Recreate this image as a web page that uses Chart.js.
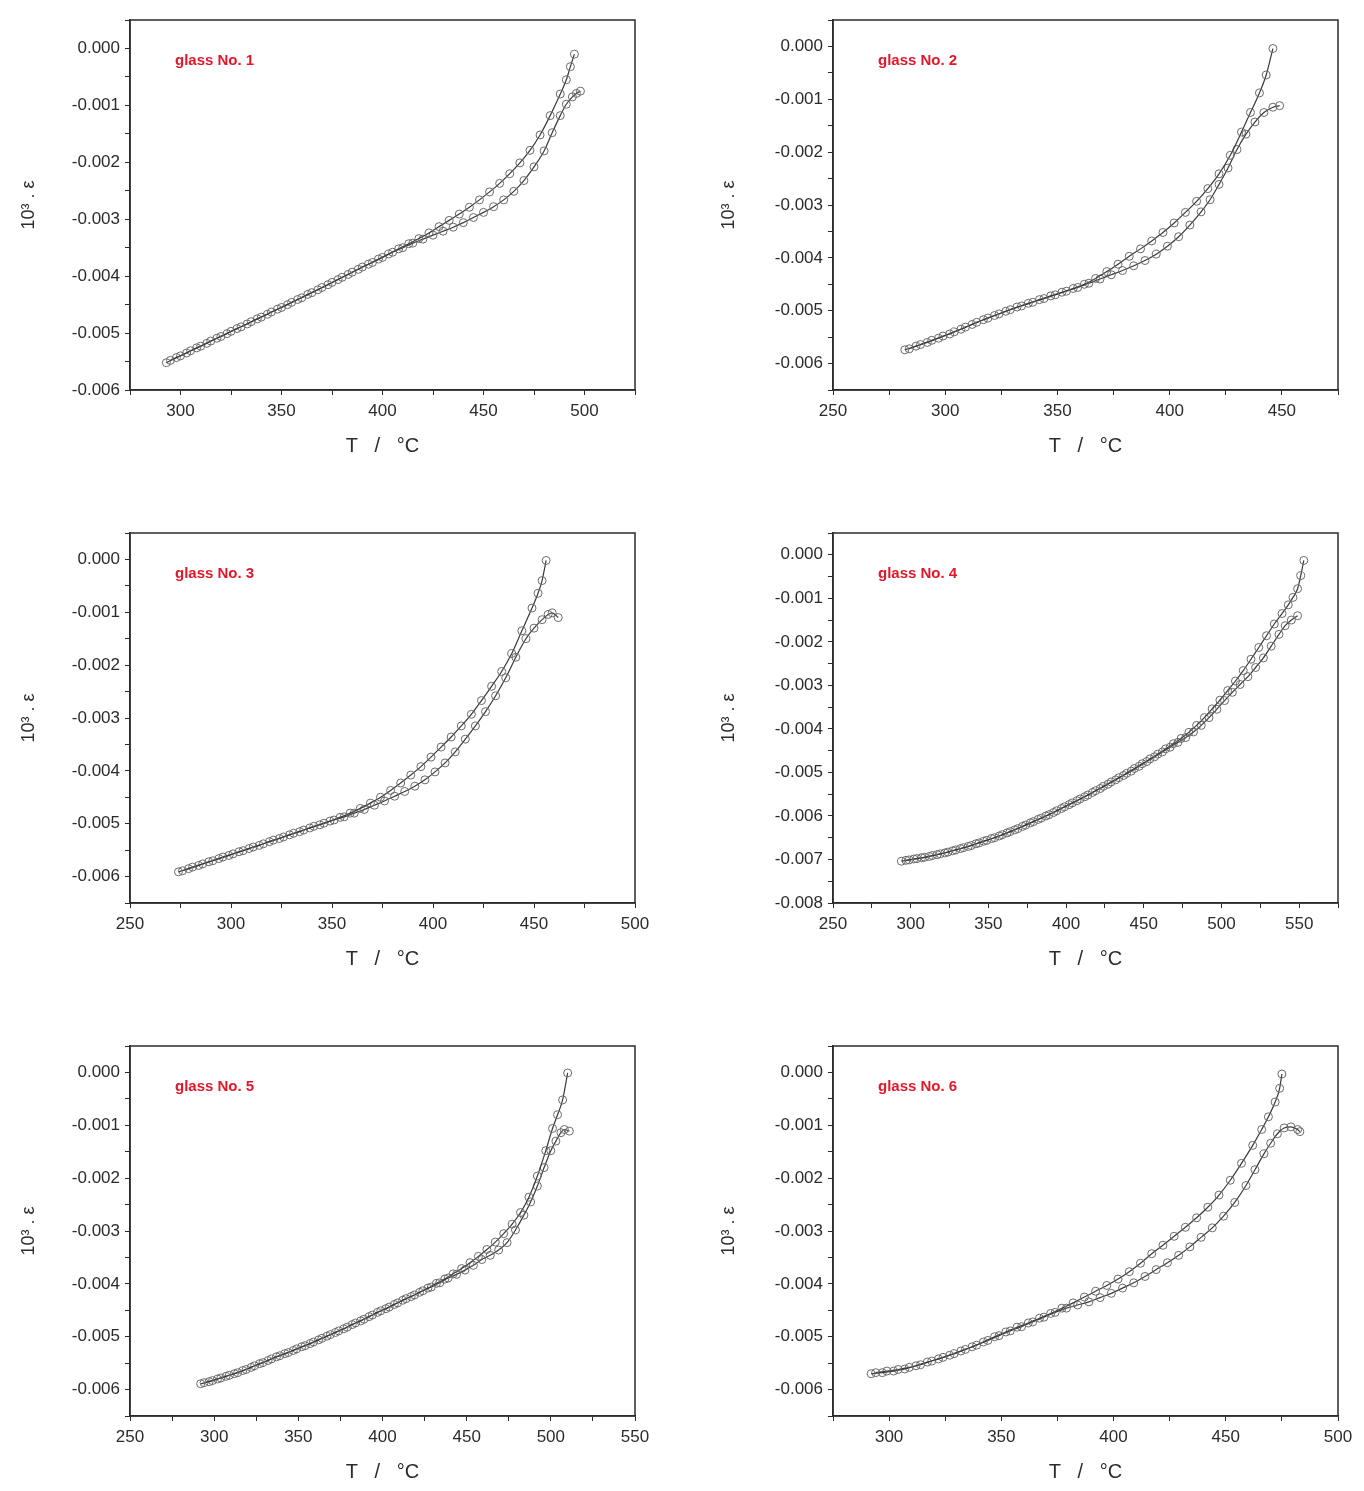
<!DOCTYPE html>
<html>
<head>
<meta charset="utf-8">
<script src="https://cdn.jsdelivr.net/npm/chart.js@4.4.0/dist/chart.umd.min.js"></script>
<style>
  body { margin: 0; background: #fff; }
  .panel { position: absolute; }
</style>
</head>
<body>
<canvas id="g1" class="panel" width="660" height="480" style="left:0;top:0"></canvas>
<canvas id="g2" class="panel" width="664" height="480" style="left:700px;top:0"></canvas>
<canvas id="g3" class="panel" width="660" height="480" style="left:0;top:513px"></canvas>
<canvas id="g4" class="panel" width="664" height="480" style="left:700px;top:513px"></canvas>
<canvas id="g5" class="panel" width="660" height="480" style="left:0;top:1026px"></canvas>
<canvas id="g6" class="panel" width="664" height="480" style="left:700px;top:1026px"></canvas>
<script>
// [T in degC, strain]; "Up" = curve reaching 0.000, "Low" = curve ending near -0.001
const glass1Up = [[293,-0.00552],[298,-0.00543],[303,-0.00535],[308,-0.00526],[313,-0.00518],[318,-0.00509],[323,-0.00501],[328,-0.00492],[333,-0.00484],[338,-0.00475],[343,-0.00467],[348,-0.00458],[353,-0.00450],[358,-0.00441],[363,-0.00432],[368,-0.00424],[373,-0.00415],[378,-0.00406],[383,-0.00397],[388,-0.00388],[393,-0.00379],[398,-0.00370],[403,-0.00361],[408,-0.00352],[413,-0.00343],[418,-0.00334],[423,-0.00324],[428,-0.00313],[433,-0.00302],[438,-0.00291],[443,-0.00279],[448,-0.00266],[453,-0.00252],[458,-0.00237],[463,-0.00220],[468,-0.00201],[473,-0.00179],[478,-0.00152],[483,-0.00118],[488,-0.00080],[491,-0.00055],[493,-0.00032],[495,-0.00010]];
const glass1Low = [[295,-0.00548],[300,-0.00540],[305,-0.00531],[310,-0.00523],[315,-0.00514],[320,-0.00506],[325,-0.00497],[330,-0.00489],[335,-0.00480],[340,-0.00472],[345,-0.00463],[350,-0.00455],[355,-0.00446],[360,-0.00438],[365,-0.00429],[370,-0.00420],[375,-0.00411],[380,-0.00402],[385,-0.00393],[390,-0.00384],[395,-0.00376],[400,-0.00367],[405,-0.00358],[410,-0.00350],[415,-0.00342],[420,-0.00335],[425,-0.00328],[430,-0.00321],[435,-0.00314],[440,-0.00306],[445,-0.00297],[450,-0.00288],[455,-0.00278],[460,-0.00266],[465,-0.00251],[470,-0.00232],[475,-0.00208],[480,-0.00180],[484,-0.00148],[488,-0.00118],[491,-0.00098],[494,-0.00085],[496,-0.00079],[498,-0.00075]];

const glass2Up = [[282,-0.00574],[287,-0.00567],[292,-0.00560],[297,-0.00552],[302,-0.00544],[307,-0.00535],[312,-0.00526],[317,-0.00517],[322,-0.00509],[327,-0.00501],[332,-0.00493],[337,-0.00486],[342,-0.00479],[347,-0.00472],[352,-0.00465],[357,-0.00458],[362,-0.00450],[367,-0.00439],[372,-0.00426],[377,-0.00412],[382,-0.00397],[387,-0.00383],[392,-0.00368],[397,-0.00352],[402,-0.00334],[407,-0.00314],[412,-0.00293],[417,-0.00269],[422,-0.00241],[427,-0.00206],[432,-0.00162],[436,-0.00125],[440,-0.00088],[443,-0.00054],[446,-0.00004]];
const glass2Low = [[284,-0.00572],[289,-0.00564],[294,-0.00556],[299,-0.00548],[304,-0.00540],[309,-0.00531],[314,-0.00522],[319,-0.00514],[324,-0.00506],[329,-0.00498],[334,-0.00491],[339,-0.00484],[344,-0.00477],[349,-0.00470],[354,-0.00463],[359,-0.00456],[364,-0.00448],[369,-0.00440],[374,-0.00432],[379,-0.00424],[384,-0.00415],[389,-0.00405],[394,-0.00393],[399,-0.00378],[404,-0.00360],[409,-0.00338],[414,-0.00313],[418,-0.00290],[422,-0.00261],[426,-0.00230],[430,-0.00195],[434,-0.00166],[438,-0.00143],[442,-0.00125],[446,-0.00115],[449,-0.00112]];

const glass3Up = [[274,-0.00591],[279,-0.00585],[284,-0.00579],[289,-0.00572],[294,-0.00566],[299,-0.00560],[304,-0.00553],[309,-0.00547],[314,-0.00541],[319,-0.00534],[324,-0.00528],[329,-0.00521],[334,-0.00515],[339,-0.00508],[344,-0.00502],[349,-0.00495],[354,-0.00488],[359,-0.00480],[364,-0.00471],[369,-0.00461],[374,-0.00450],[379,-0.00437],[384,-0.00423],[389,-0.00408],[394,-0.00392],[399,-0.00374],[404,-0.00355],[409,-0.00336],[414,-0.00315],[419,-0.00293],[424,-0.00267],[429,-0.00240],[434,-0.00212],[439,-0.00178],[444,-0.00135],[449,-0.00092],[452,-0.00064],[454,-0.00040],[456,-0.00002]];
const glass3Low = [[276,-0.00589],[281,-0.00582],[286,-0.00576],[291,-0.00570],[296,-0.00563],[301,-0.00557],[306,-0.00551],[311,-0.00544],[316,-0.00538],[321,-0.00531],[326,-0.00525],[331,-0.00518],[336,-0.00512],[341,-0.00505],[346,-0.00499],[351,-0.00493],[356,-0.00487],[361,-0.00480],[366,-0.00473],[371,-0.00465],[376,-0.00457],[381,-0.00448],[386,-0.00439],[391,-0.00429],[396,-0.00417],[401,-0.00402],[406,-0.00385],[411,-0.00364],[416,-0.00340],[421,-0.00315],[426,-0.00288],[431,-0.00258],[436,-0.00224],[441,-0.00185],[446,-0.00150],[450,-0.00130],[454,-0.00114],[457,-0.00104],[459,-0.00101],[462,-0.00110]];

const glass4Up = [[294,-0.00704],[299,-0.00701],[304,-0.00698],[309,-0.00695],[314,-0.00691],[319,-0.00687],[324,-0.00683],[329,-0.00678],[334,-0.00673],[339,-0.00668],[344,-0.00662],[349,-0.00656],[354,-0.00650],[359,-0.00643],[364,-0.00636],[369,-0.00629],[374,-0.00621],[379,-0.00613],[384,-0.00605],[389,-0.00597],[394,-0.00588],[399,-0.00579],[404,-0.00570],[409,-0.00561],[414,-0.00552],[419,-0.00542],[424,-0.00532],[429,-0.00522],[434,-0.00512],[439,-0.00502],[444,-0.00491],[449,-0.00480],[454,-0.00469],[459,-0.00458],[464,-0.00446],[469,-0.00434],[474,-0.00422],[479,-0.00408],[484,-0.00392],[489,-0.00374],[494,-0.00354],[499,-0.00334],[504,-0.00312],[509,-0.00290],[514,-0.00266],[519,-0.00240],[524,-0.00213],[529,-0.00186],[534,-0.00159],[539,-0.00135],[543,-0.00115],[546,-0.00098],[549,-0.00078],[551,-0.00048],[553,-0.00013]];
const glass4Low = [[297,-0.00702],[302,-0.00699],[307,-0.00696],[312,-0.00693],[317,-0.00689],[322,-0.00685],[327,-0.00680],[332,-0.00675],[337,-0.00670],[342,-0.00664],[347,-0.00658],[352,-0.00652],[357,-0.00646],[362,-0.00639],[367,-0.00632],[372,-0.00624],[377,-0.00616],[382,-0.00608],[387,-0.00600],[392,-0.00592],[397,-0.00583],[402,-0.00574],[407,-0.00565],[412,-0.00556],[417,-0.00546],[422,-0.00537],[427,-0.00527],[432,-0.00517],[437,-0.00507],[442,-0.00497],[447,-0.00486],[452,-0.00475],[457,-0.00464],[462,-0.00453],[467,-0.00442],[472,-0.00431],[477,-0.00420],[482,-0.00407],[487,-0.00392],[492,-0.00374],[497,-0.00355],[502,-0.00335],[507,-0.00316],[512,-0.00298],[517,-0.00280],[522,-0.00259],[527,-0.00237],[532,-0.00210],[537,-0.00183],[541,-0.00163],[545,-0.00150],[549,-0.00140]];

const glass5Up = [[292,-0.00589],[297,-0.00585],[302,-0.00580],[307,-0.00575],[312,-0.00570],[317,-0.00564],[322,-0.00558],[327,-0.00551],[332,-0.00545],[337,-0.00538],[342,-0.00532],[347,-0.00526],[352,-0.00519],[357,-0.00513],[362,-0.00506],[367,-0.00499],[372,-0.00492],[377,-0.00485],[382,-0.00477],[387,-0.00470],[392,-0.00462],[397,-0.00454],[402,-0.00447],[407,-0.00439],[412,-0.00431],[417,-0.00424],[422,-0.00416],[427,-0.00408],[432,-0.00399],[437,-0.00391],[442,-0.00381],[447,-0.00371],[452,-0.00360],[457,-0.00348],[462,-0.00335],[467,-0.00321],[472,-0.00305],[477,-0.00287],[482,-0.00265],[487,-0.00236],[492,-0.00196],[497,-0.00148],[501,-0.00106],[504,-0.00080],[507,-0.00052],[510,-0.00001]];
const glass5Low = [[294,-0.00587],[299,-0.00583],[304,-0.00578],[309,-0.00573],[314,-0.00568],[319,-0.00562],[324,-0.00555],[329,-0.00549],[334,-0.00542],[339,-0.00536],[344,-0.00530],[349,-0.00523],[354,-0.00517],[359,-0.00510],[364,-0.00503],[369,-0.00496],[374,-0.00489],[379,-0.00482],[384,-0.00474],[389,-0.00467],[394,-0.00459],[399,-0.00451],[404,-0.00444],[409,-0.00436],[414,-0.00428],[419,-0.00421],[424,-0.00413],[429,-0.00406],[434,-0.00398],[439,-0.00389],[444,-0.00382],[449,-0.00374],[454,-0.00365],[459,-0.00354],[464,-0.00346],[469,-0.00336],[474,-0.00322],[479,-0.00298],[484,-0.00270],[488,-0.00245],[492,-0.00215],[496,-0.00180],[500,-0.00148],[503,-0.00130],[506,-0.00114],[508,-0.00108],[511,-0.00111]];

const glass6Up = [[292,-0.00570],[297,-0.00568],[302,-0.00565],[307,-0.00561],[312,-0.00555],[317,-0.00548],[322,-0.00542],[327,-0.00535],[332,-0.00527],[337,-0.00519],[342,-0.00510],[347,-0.00500],[352,-0.00491],[357,-0.00482],[362,-0.00474],[367,-0.00465],[372,-0.00456],[377,-0.00446],[382,-0.00436],[387,-0.00425],[392,-0.00414],[397,-0.00403],[402,-0.00391],[407,-0.00377],[412,-0.00361],[417,-0.00343],[422,-0.00327],[427,-0.00310],[432,-0.00293],[437,-0.00275],[442,-0.00255],[447,-0.00232],[452,-0.00204],[457,-0.00172],[462,-0.00138],[466,-0.00108],[469,-0.00084],[472,-0.00056],[474,-0.00030],[475,-0.00003]];
const glass6Low = [[294,-0.00568],[299,-0.00565],[304,-0.00562],[309,-0.00558],[314,-0.00553],[319,-0.00546],[324,-0.00539],[329,-0.00532],[334,-0.00524],[339,-0.00516],[344,-0.00507],[349,-0.00498],[354,-0.00489],[359,-0.00481],[364,-0.00472],[369,-0.00463],[374,-0.00454],[379,-0.00446],[384,-0.00440],[389,-0.00434],[394,-0.00426],[399,-0.00418],[404,-0.00408],[409,-0.00398],[414,-0.00386],[419,-0.00373],[424,-0.00360],[429,-0.00346],[434,-0.00330],[439,-0.00312],[444,-0.00294],[449,-0.00272],[454,-0.00246],[459,-0.00214],[463,-0.00184],[467,-0.00154],[470,-0.00134],[473,-0.00116],[476,-0.00105],[479,-0.00103],[482,-0.00108],[483,-0.00112]];

const panelLabels = ['glass No. 1', 'glass No. 2', 'glass No. 3', 'glass No. 4', 'glass No. 5', 'glass No. 6'];
const xRanges = [[275, 525], [250, 475], [250, 500], [250, 575], [250, 550], [275, 500]];
const yRanges = [[-0.006, 0.0005], [-0.0065, 0.0005], [-0.0065, 0.0005], [-0.008, 0.0005], [-0.0065, 0.0005], [-0.0065, 0.0005]];
const seriesUp = [glass1Up, glass2Up, glass3Up, glass4Up, glass5Up, glass6Up];
const seriesLow = [glass1Low, glass2Low, glass3Low, glass4Low, glass5Low, glass6Low];

const FONT = "'Liberation Sans', Arial, sans-serif";
const INK = '#2b2b2b';

// box around the plot area
const framePlugin = {
    id: 'frame',
    afterDraw(chart) {
        const { ctx, chartArea: a } = chart;
        ctx.save();
        ctx.strokeStyle = INK;
        ctx.lineWidth = 1.5;
        ctx.strokeRect(a.left, a.top, a.right - a.left, a.bottom - a.top);
        ctx.restore();
    }
};

// red "glass No. n" tag in the upper left corner
const tagPlugin = {
    id: 'glassTag',
    afterDraw(chart, args, opts) {
        const { ctx, chartArea: a } = chart;
        ctx.save();
        ctx.font = 'bold 15px ' + FONT;
        ctx.fillStyle = '#e0182a';
        ctx.textBaseline = 'middle';
        ctx.fillText(opts.text, a.left + 45, a.top + 41);
        ctx.restore();
    }
};

function toPoints(pairs) {
    return pairs.map(p => ({ x: p[0], y: p[1] }));
}

function curve(pairs) {
    return {
        data: toPoints(pairs),
        borderColor: '#3a3a3a',
        borderWidth: 1.2,
        pointStyle: 'circle',
        pointRadius: 4,
        pointBorderWidth: 1,
        pointBorderColor: '#6a6a6a',
        pointBackgroundColor: 'rgba(255,255,255,0)',
        cubicInterpolationMode: 'monotone',
        fill: false
    };
}

function drawPanel(i) {
    const ctx = document.getElementById('g' + (i + 1));
    const rightCol = i % 2 === 1;

    new Chart(ctx, {
        type: 'line',
        data: { datasets: [curve(seriesUp[i]), curve(seriesLow[i])] },
        options: {
            responsive: false,
            animation: false,
            layout: { padding: { top: 20, bottom: 18, right: rightCol ? 26 : 25, left: 0 } },
            scales: {
                x: {
                    type: 'linear',
                    min: xRanges[i][0],
                    max: xRanges[i][1],
                    afterFit: s => { s.height = 72; },
                    ticks: {
                        stepSize: 25,
                        autoSkip: false,
                        maxRotation: 0,
                        padding: 6,
                        color: INK,
                        font: { family: FONT, size: 17 },
                        callback: v => (v % 50 === 0 ? String(v) : '')
                    },
                    grid: { drawOnChartArea: false, drawTicks: true, tickLength: 5, color: INK },
                    border: { color: INK, width: 1.5 },
                    title: {
                        display: true,
                        text: 'T   /   °C',
                        color: INK,
                        font: { family: FONT, size: 20 },
                        padding: { top: 4, bottom: 4 }
                    }
                },
                y: {
                    min: yRanges[i][0],
                    max: yRanges[i][1],
                    afterFit: s => { s.width = rightCol ? 133 : 130; },
                    ticks: {
                        stepSize: 0.0005,
                        autoSkip: false,
                        padding: 5,
                        color: INK,
                        font: { family: FONT, size: 17 },
                        callback: v => {
                            const k = Math.round(v * 1000);
                            return Math.abs(v * 1000 - k) < 1e-6 ? (k / 1000).toFixed(3) : '';
                        }
                    },
                    grid: { drawOnChartArea: false, drawTicks: true, tickLength: 5, color: INK },
                    border: { color: INK, width: 1.5 },
                    title: {
                        display: true,
                        text: '10³ . ε',
                        color: INK,
                        font: { family: FONT, size: 18 },
                        padding: { top: 18, bottom: 0 }
                    }
                }
            },
            plugins: {
                legend: { display: false },
                tooltip: { enabled: false },
                glassTag: { text: panelLabels[i] }
            }
        },
        plugins: [framePlugin, tagPlugin]
    });
}

for (let i = 0; i < 6; i++) drawPanel(i);
</script>
</body>
</html>
